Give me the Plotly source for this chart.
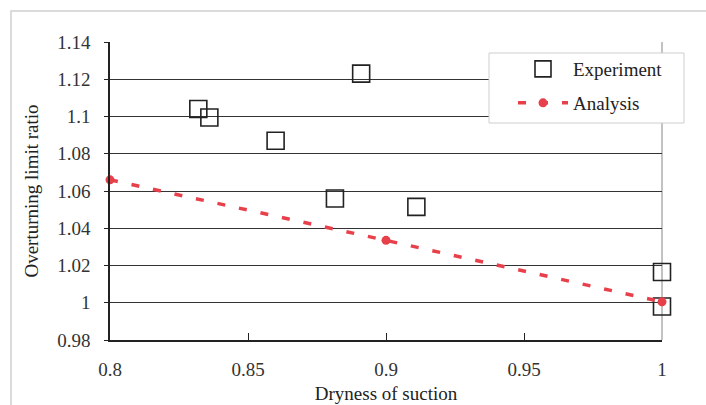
import plotly.graph_objects as go

# ---- data ----
exp_x = [0.832, 0.836, 0.860, 0.8815, 0.891, 0.911, 1.0, 1.0]
exp_y = [1.104, 1.0995, 1.087, 1.056, 1.123, 1.0515, 1.0165, 0.998]
ana_x = [0.8, 0.9, 1.0]
ana_y = [1.066, 1.0335, 1.0005]
x_ticks = [0.8, 0.85, 0.9, 0.95, 1.0]
x_tick_text = ["0.8", "0.85", "0.9", "0.95", "1"]
y_ticks = [0.98, 1.0, 1.02, 1.04, 1.06, 1.08, 1.1, 1.12, 1.14]
y_tick_text = ["0.98", "1", "1.02", "1.04", "1.06", "1.08", "1.1", "1.12", "1.14"]

W, H = 706, 405
ML, MR, MT, MB = 110, 44, 42, 65
PW, PH = W - ML - MR, H - MT - MB


def px(x):
    return (x - ML) / PW


def py(y):
    return (H - MB - y) / PH


FONT = "Liberation Serif, Times New Roman, serif"
RED = "#e8404a"

fig = go.Figure()
fig.add_trace(go.Scatter(
    x=exp_x, y=exp_y, mode="markers", name="Experiment",
    marker=dict(symbol="square-open", size=17, color="#222",
                line=dict(width=1.6, color="#222")),
    cliponaxis=False, legend="legend",
))
fig.add_trace(go.Scatter(
    x=ana_x, y=ana_y, mode="lines+markers", name="Analysis",
    line=dict(color=RED, width=3.5, dash="8px,14px"),
    marker=dict(symbol="circle", size=9, color=RED),
    cliponaxis=False, legend="legend2",
))

shapes = [
    # outer light frame
    dict(type="rect", xref="paper", yref="paper",
         x0=px(11), x1=px(712), y0=py(11), y1=py(412),
         line=dict(color="#d0d0d0", width=1.5), fillcolor="rgba(0,0,0,0)",
         layer="below"),
    # right border of plot area (gray)
    dict(type="line", xref="paper", yref="paper", x0=1, x1=1, y0=0, y1=1,
         line=dict(color="#999", width=1.2), layer="below"),
    # legend box
    dict(type="rect", xref="paper", yref="paper",
         x0=px(489), x1=px(684), y0=py(123), y1=py(53),
         line=dict(color="#cfcfcf", width=1), fillcolor="white",
         layer="above"),
]

leg_common = dict(xanchor="left", yanchor="top",
                  bgcolor="rgba(0,0,0,0)", borderwidth=0,
                  font=dict(family=FONT, size=19, color="#222"),
                  itemwidth=50)

fig.update_layout(
    width=W, height=H,
    margin=dict(l=ML, r=MR, t=MT, b=MB, autoexpand=False),
    paper_bgcolor="white", plot_bgcolor="white",
    font=dict(family=FONT, size=19, color="#222"),
    showlegend=True,
    legend=dict(x=px(513), y=py(50), **leg_common),
    legend2=dict(x=px(513), y=py(84), **leg_common),
    shapes=shapes,
    xaxis=dict(
        range=[0.8, 1.0], tickvals=x_ticks, ticktext=x_tick_text,
        showgrid=False, zeroline=False, automargin=False,
        showline=True, linecolor="#222", linewidth=1.5,
        ticks="inside", ticklen=7, tickcolor="#222", tickwidth=1.2,
        ticklabelstandoff=11,
        tickfont=dict(family=FONT, size=19, color="#333"),
        title=dict(text="Dryness of suction", standoff=8,
                   font=dict(family=FONT, size=19, color="#222")),
    ),
    yaxis=dict(
        range=[0.98, 1.14], tickvals=y_ticks, ticktext=y_tick_text,
        showgrid=True, gridcolor="#333", gridwidth=1.1, zeroline=False,
        automargin=False,
        showline=True, linecolor="#222", linewidth=1.5,
        ticks="outside", ticklen=4, tickcolor="#222", tickwidth=1.2,
        ticklabelstandoff=10,
        tickfont=dict(family=FONT, size=19, color="#333"),
        title=dict(text="Overturning limit ratio", standoff=14,
                   font=dict(family=FONT, size=19, color="#222")),
    ),
)

fig.write_html("out.html")
